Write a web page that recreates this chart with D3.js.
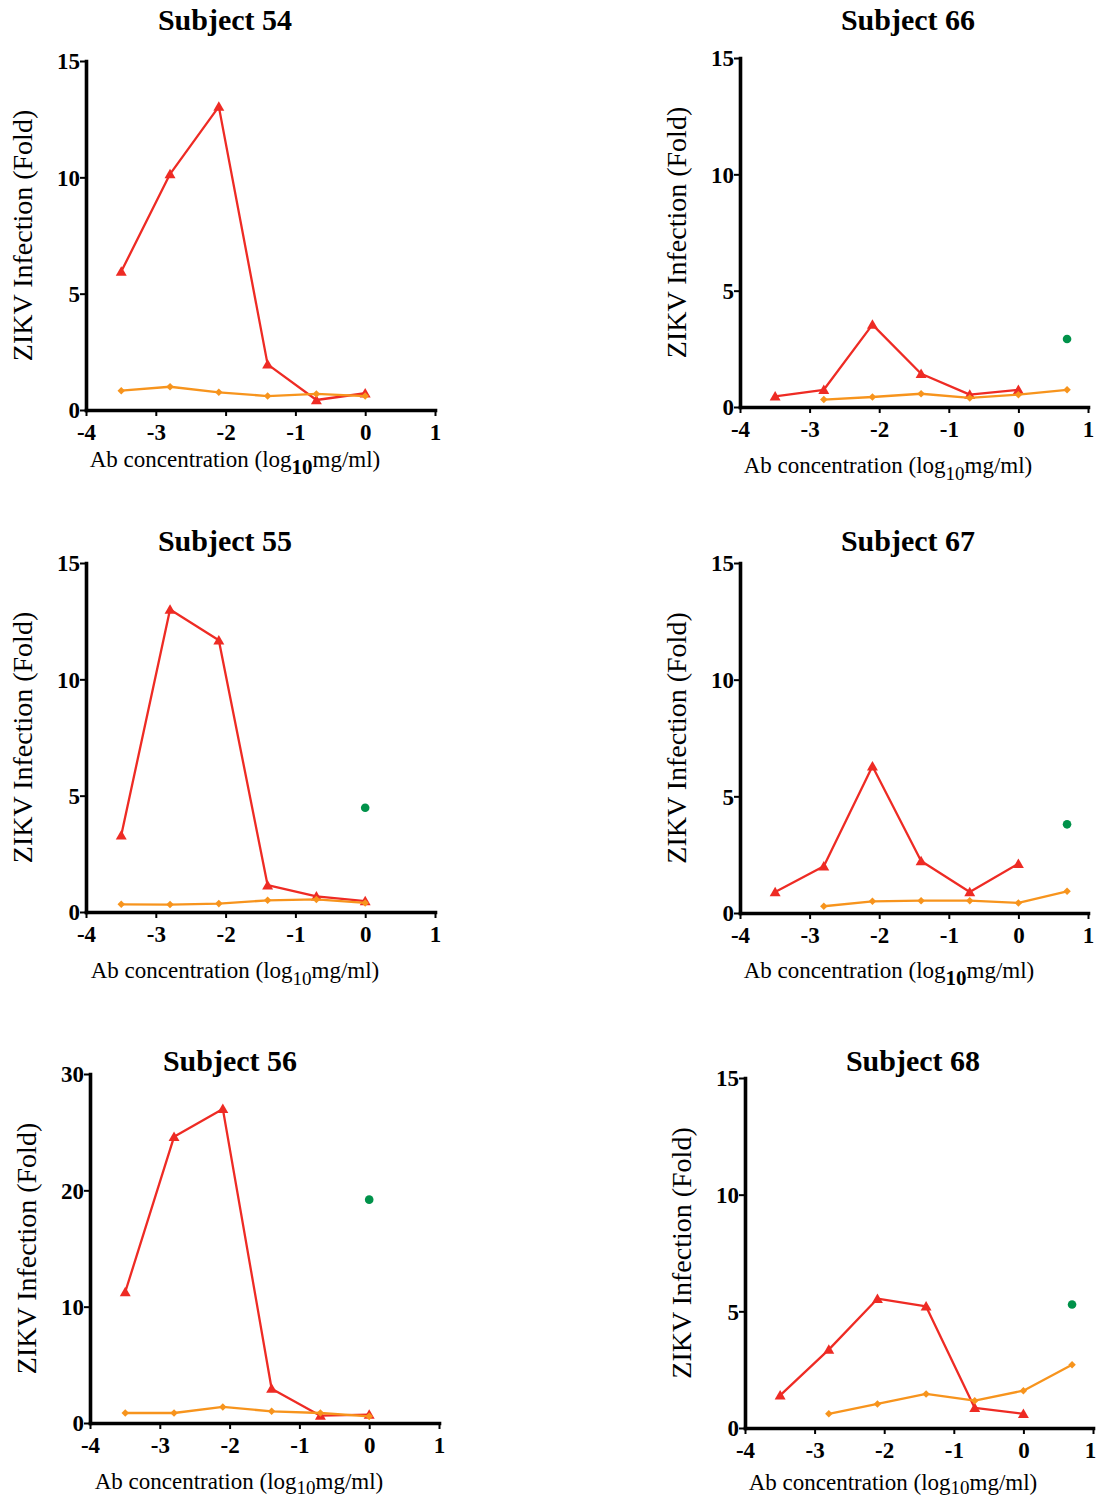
<!DOCTYPE html>
<html>
<head>
<meta charset="utf-8">
<script src="https://cdn.jsdelivr.net/npm/d3@7"></script>
<style>
  html, body { margin: 0; padding: 0; background: #fff; }
  svg { display: block; }
</style>
</head>
<body>
<svg id="chart" width="1097" height="1500"></svg>
<script>
// ---------------- DATA ----------------
const subjects = ["Subject 54", "Subject 66", "Subject 55", "Subject 67", "Subject 56", "Subject 68"];
// log10 antibody concentration (5-fold dilutions)
const concentrations = [-3.495, -2.796, -2.097, -1.398, -0.699, 0, 0.699];
const xTicks = [-4, -3, -2, -1, 0, 1];
const yMaxes = [15, 15, 15, 15, 30, 15];
const yTicksSmall = [0, 5, 10, 15];
const yTicksLarge = [0, 10, 20, 30];

// red triangles series
const redValues = [
  [5.95, 10.14, 13.04, 1.96, 0.43, 0.72, null],
  [0.46, 0.74, 3.54, 1.43, 0.53, 0.74, null],
  [3.30, 13.00, 11.68, 1.15, 0.67, 0.47, null],
  [0.90, 2.00, 6.29, 2.23, 0.90, 2.11, null],
  [11.26, 24.60, 27.00, 2.95, 0.63, 0.72, null],
  [1.40, 3.36, 5.54, 5.21, 0.86, 0.61, null]
];
// orange diamonds series
const orangeValues = [
  [0.83, 1.00, 0.76, 0.60, 0.69, 0.60, null],
  [null, 0.32, 0.43, 0.57, 0.39, 0.53, 0.74],
  [0.33, 0.32, 0.36, 0.50, 0.54, 0.39, null],
  [null, 0.29, 0.50, 0.53, 0.53, 0.43, 0.93],
  [0.86, 0.86, 1.38, 1.00, 0.86, 0.57, null],
  [null, 0.61, 1.03, 1.46, 1.17, 1.60, 2.71]
];
// green circle (single point)
const greenX = [null, 0.699, 0, 0.699, 0, 0.699];
const greenY = [null, 2.92, 4.48, 3.80, 19.2, 5.29];

// ---------------- LAYOUT (positions only) ----------------
const layout = [
  {left: 86,  right: 435,  top: 61,   bottom: 410,  tx: 225, ty: 30,   lx: 235, ly: 467,  subDy: 7, boldSub: true},
  {left: 740, right: 1088, top: 58,   bottom: 407,  tx: 908, ty: 30,   lx: 888, ly: 473,  subDy: 7, boldSub: false},
  {left: 86,  right: 435,  top: 563,  bottom: 912,  tx: 225, ty: 551,  lx: 235, ly: 978,  subDy: 7, boldSub: false},
  {left: 740, right: 1088, top: 563,  bottom: 913,  tx: 908, ty: 551,  lx: 889, ly: 978,  subDy: 7, boldSub: true},
  {left: 90,  right: 439,  top: 1074, bottom: 1423, tx: 230, ty: 1071, lx: 239, ly: 1489, subDy: 5, boldSub: false},
  {left: 745, right: 1093, top: 1078, bottom: 1428, tx: 913, ty: 1071, lx: 893, ly: 1490, subDy: 4, boldSub: false}
];

const RED = "#ee2b24";
const ORANGE = "#f7941d";
const GREEN = "#00924a";
const FONT = "'Liberation Serif', 'Times New Roman', serif";

const svg = d3.select("#chart");
svg.append("rect").attr("width", 1097).attr("height", 1500).attr("fill", "#fff");

const triangle = d3.symbol().type(d3.symbolTriangle).size(52);
const diamond = d3.symbol().type(d3.symbolDiamond2).size(36);

subjects.forEach((name, i) => {
  const L = layout[i];
  const g = svg.append("g");
  const x = d3.scaleLinear().domain([-4, 1]).range([L.left, L.right]);
  const y = d3.scaleLinear().domain([0, yMaxes[i]]).range([L.bottom, L.top]);
  const yTicks = yMaxes[i] === 30 ? yTicksLarge : yTicksSmall;

  // Lines & points
  const line = d3.line()
    .defined(d => d.v != null)
    .x(d => x(d.c)).y(d => y(d.v));

  const redData = concentrations.map((c, k) => ({c, v: redValues[i][k]}));
  const orangeData = concentrations.map((c, k) => ({c, v: orangeValues[i][k]}));

  g.append("path").datum(redData)
    .attr("d", line).attr("fill", "none").attr("stroke", RED).attr("stroke-width", 2.3)
    .attr("stroke-linejoin", "round");
  g.selectAll(".tri").data(redData.filter(d => d.v != null)).enter().append("path")
    .attr("d", triangle)
    .attr("transform", d => `translate(${x(d.c)},${y(d.v) + 1})`)
    .attr("fill", RED);

  g.append("path").datum(orangeData)
    .attr("d", line).attr("fill", "none").attr("stroke", ORANGE).attr("stroke-width", 2.3)
    .attr("stroke-linejoin", "round");
  g.selectAll(".dia").data(orangeData.filter(d => d.v != null)).enter().append("path")
    .attr("d", diamond)
    .attr("transform", d => `translate(${x(d.c)},${y(d.v)})`)
    .attr("fill", ORANGE);

  if (greenX[i] != null) {
    g.append("circle")
      .attr("cx", x(greenX[i])).attr("cy", y(greenY[i])).attr("r", 4.3)
      .attr("fill", GREEN);
  }

  // Axes
  const yAxis = d3.axisLeft(y).tickValues(yTicks).tickSize(6).tickSizeOuter(0).tickPadding(0)
    .tickFormat(d3.format("d"));
  const xAxis = d3.axisBottom(x).tickValues(xTicks).tickSize(6).tickSizeOuter(0).tickPadding(8)
    .tickFormat(d => String(d));

  const ya = g.append("g").attr("transform", `translate(${L.left},0)`).call(yAxis);
  const xa = g.append("g").attr("transform", `translate(0,${L.bottom})`).call(xAxis);

  [ya, xa].forEach(a => {
    a.select(".domain").attr("stroke", "#000").attr("stroke-width", 3.6).attr("stroke-linecap", "square");
    a.selectAll(".tick line").attr("stroke", "#000").attr("stroke-width", 2);
    a.selectAll(".tick text")
      .attr("fill", "#000")
      .style("font-family", FONT)
      .style("font-weight", "bold")
      .style("font-size", "23px");
  });
  ya.selectAll(".tick text").attr("dy", "0.34em");
  // keep the last x tick label inside the page
  xa.selectAll(".tick text").filter(d => x(d) > 1088).attr("dx", -3);

  // Title
  g.append("text")
    .attr("x", L.tx).attr("y", L.ty)
    .attr("text-anchor", "middle")
    .style("font-family", FONT).style("font-weight", "bold").style("font-size", "30px")
    .attr("fill", "#000")
    .text(name);

  // Y axis label
  g.append("text")
    .attr("transform", `translate(${L.left - 54},${(L.top + L.bottom) / 2}) rotate(-90)`)
    .attr("text-anchor", "middle")
    .style("font-family", FONT).style("font-size", "28px")
    .attr("fill", "#000")
    .text("ZIKV Infection (Fold)");

  // X axis label with subscript
  const xl = g.append("text")
    .attr("x", L.lx).attr("y", L.ly)
    .attr("text-anchor", "middle")
    .style("font-family", FONT).style("font-size", "23px")
    .attr("fill", "#000");
  xl.append("tspan").text("Ab concentration (log");
  xl.append("tspan").attr("dy", L.subDy)
    .style("font-size", L.boldSub ? "21px" : "19px")
    .style("font-weight", L.boldSub ? "bold" : "normal")
    .text("10");
  xl.append("tspan").attr("dy", -L.subDy).text("mg/ml)");
});
</script>
</body>
</html>
